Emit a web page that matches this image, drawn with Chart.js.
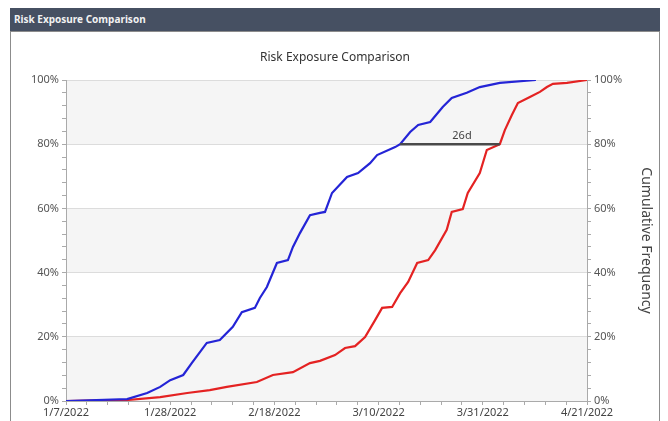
<!DOCTYPE html>
<html>
<head>
<meta charset="utf-8">
<script src="https://cdn.jsdelivr.net/npm/chart.js@4"></script>
<style>
  body { margin: 0; background: #fff; font-family: "Noto Sans", "Open Sans", sans-serif; }
  #header { position: absolute; left: 10px; top: 8px; width: 650px; height: 23px; background: #465062;
            color: #f2f2f2; font: bold 10px "Noto Sans", sans-serif; line-height: 23px; padding-left: 4px; box-sizing: border-box; }
  #panel { position: absolute; left: 10px; top: 31px; width: 650px; height: 400px; border: 1px solid #8c8c8c; box-sizing: border-box; }
  #riskChart { position: absolute; left: 1px; top: 0px; }
</style>
</head>
<body>
<div id="header">Risk Exposure Comparison</div>
<div id="panel"><canvas id="riskChart" width="646" height="389"></canvas></div>
<script>
// days since 1/7/2022 and cumulative %
const blueDays = [0, 12.2, 16.2, 18.8, 20.8, 23.4, 25.1, 28.1, 30.7, 33.3, 35.1, 37.7, 38.7, 40.1, 42.1, 44.3, 45.3, 46.7, 48.7, 50.7, 51.7, 53.1, 56.1, 58.3, 60.7, 62.1, 65.7, 66.7, 68.7, 70.3, 72.7, 75.2, 77.0, 80.0, 82.6, 86.6, 93.8];
const bluePct  = [0, 0.6, 2.5, 4.4, 6.5, 8.1, 11.8, 18.1, 19.0, 23.1, 27.7, 29.0, 32.1, 35.5, 43.0, 43.9, 48.0, 52.3, 57.9, 58.6, 58.9, 64.8, 69.8, 71.0, 74.1, 76.6, 79.1, 80.0, 83.8, 86.0, 86.9, 91.6, 94.4, 96.0, 97.8, 99.1, 100];
const redDays = [0, 6.8, 12.2, 18.8, 24.2, 28.7, 32.1, 38.1, 41.3, 45.3, 48.7, 50.7, 53.7, 55.7, 57.7, 59.7, 61.7, 63.1, 65.1, 66.7, 68.3, 70.1, 72.3, 73.7, 76.0, 77.0, 79.2, 80.2, 82.6, 84.0, 86.6, 87.6, 89.0, 90.2, 92.6, 94.6, 96.0, 97.2, 100.0, 104];
const redPct  = [0, 0.2, 0.3, 1.2, 2.5, 3.4, 4.4, 5.9, 8.1, 9.0, 11.8, 12.5, 14.3, 16.5, 17.1, 19.9, 25.2, 29.0, 29.3, 33.6, 37.1, 43.0, 43.9, 47.0, 53.3, 58.9, 59.8, 64.8, 71.0, 78.2, 80.0, 84.4, 89.1, 92.8, 94.7, 96.3, 97.8, 98.8, 99.1, 100];
const xTickLabels = ['1/7/2022', '1/28/2022', '2/18/2022', '3/10/2022', '3/31/2022', '4/21/2022'];
const totalDays = 104;
const gapLevel = 80;
const gapLabel = '26d';

function toPoints(xs, ys) { return xs.map((x, i) => ({ x: x, y: ys[i] })); }
function crossAt(xs, ys, level) {
  for (let i = 1; i < ys.length; i++) {
    if (ys[i] >= level) {
      const t = (level - ys[i - 1]) / (ys[i] - ys[i - 1] || 1);
      return xs[i - 1] + t * (xs[i] - xs[i - 1]);
    }
  }
  return xs[xs.length - 1];
}
const isMajor = v => Math.round(v) % 20 === 0;

const bands = {
  id: 'bands',
  beforeDraw(chart) {
    const { ctx, chartArea: a, scales } = chart;
    ctx.save();
    ctx.fillStyle = '#f5f5f5';
    for (let v = 0; v < 100; v += 40) {
      const top = scales.y.getPixelForValue(v + 20), bot = scales.y.getPixelForValue(v);
      ctx.fillRect(a.left, top, a.right - a.left, bot - top);
    }
    ctx.restore();
  }
};

const gapLine = {
  id: 'gapLine',
  afterDatasetsDraw(chart) {
    const { ctx, scales } = chart;
    const x1 = scales.x.getPixelForValue(crossAt(blueDays, bluePct, gapLevel));
    const x2 = scales.x.getPixelForValue(crossAt(redDays, redPct, gapLevel));
    const y = scales.y.getPixelForValue(gapLevel);
    ctx.save();
    ctx.strokeStyle = '#4a4a4a';
    ctx.lineWidth = 2.5;
    ctx.beginPath(); ctx.moveTo(x1, y); ctx.lineTo(x2, y); ctx.stroke();
    ctx.fillStyle = '#444';
    ctx.font = '11px "Noto Sans", sans-serif';
    ctx.textAlign = 'center';
    ctx.textBaseline = 'bottom';
    ctx.fillText(gapLabel, (x1 + x2) / 2 + 12, y - 3);
    ctx.restore();
  }
};

const yTicks = {
  stepSize: 4,
  autoSkip: false,
  color: '#555',
  font: { size: 11, family: '"Noto Sans", sans-serif' },
  padding: 3,
  callback: v => (isMajor(v) ? Math.round(v) + '%' : '')
};

new Chart(document.getElementById('riskChart'), {
  type: 'line',
  data: {
    datasets: [
      { data: toPoints(blueDays, bluePct), borderColor: '#2424d6', borderWidth: 2.2, pointRadius: 0, tension: 0 },
      { data: toPoints(redDays, redPct), borderColor: '#e42222', borderWidth: 2.2, pointRadius: 0, tension: 0 }
    ]
  },
  options: {
    responsive: false,
    animation: false,
    layout: { padding: 0 },
    plugins: {
      legend: { display: false },
      tooltip: { enabled: false },
      title: {
        display: true,
        text: 'Risk Exposure Comparison',
        color: '#333',
        font: { size: 12, weight: 'normal', family: '"Noto Sans", sans-serif' },
        padding: { top: 18, bottom: 15.6 }
      }
    },
    scales: {
      x: {
        type: 'linear',
        min: 0,
        max: totalDays,
        afterBuildTicks: s => {
          const t = [];
          for (let i = 0; i <= 25; i++) t.push({ value: i * totalDays / 25 });
          s.ticks = t;
        },
        afterFit: s => { s.height = 20; },
        grid: { drawOnChartArea: false, tickLength: 4, tickColor: '#aaa' },
        border: { color: '#aaa' },
        ticks: {
          autoSkip: false,
          maxRotation: 0,
          padding: 1,
          color: '#444',
          font: { size: 11, family: '"Noto Sans", sans-serif' },
          callback: function (v, i) { return i % 5 === 0 ? xTickLabels[i / 5] : ''; }
        }
      },
      y: {
        position: 'left',
        min: 0,
        max: 100,
        afterFit: s => { s.width = 54; },
        grid: {
          color: c => (c.tick && isMajor(c.tick.value) ? '#dcdcdc' : 'rgba(0,0,0,0)'),
          tickColor: '#aaa',
          tickLength: 4
        },
        border: { color: '#aaa' },
        ticks: yTicks
      },
      y1: {
        position: 'right',
        min: 0,
        max: 100,
        afterFit: s => { s.width = 71; },
        grid: { drawOnChartArea: false, tickColor: '#aaa', tickLength: 4 },
        border: { color: '#aaa' },
        ticks: yTicks,
        title: {
          display: true,
          text: 'Cumulative Frequency',
          color: '#444',
          font: { size: 14, family: '"Noto Sans", sans-serif' },
          padding: { top: 4, bottom: 6 }
        }
      }
    }
  },
  plugins: [bands, gapLine]
});
</script>
</body>
</html>
